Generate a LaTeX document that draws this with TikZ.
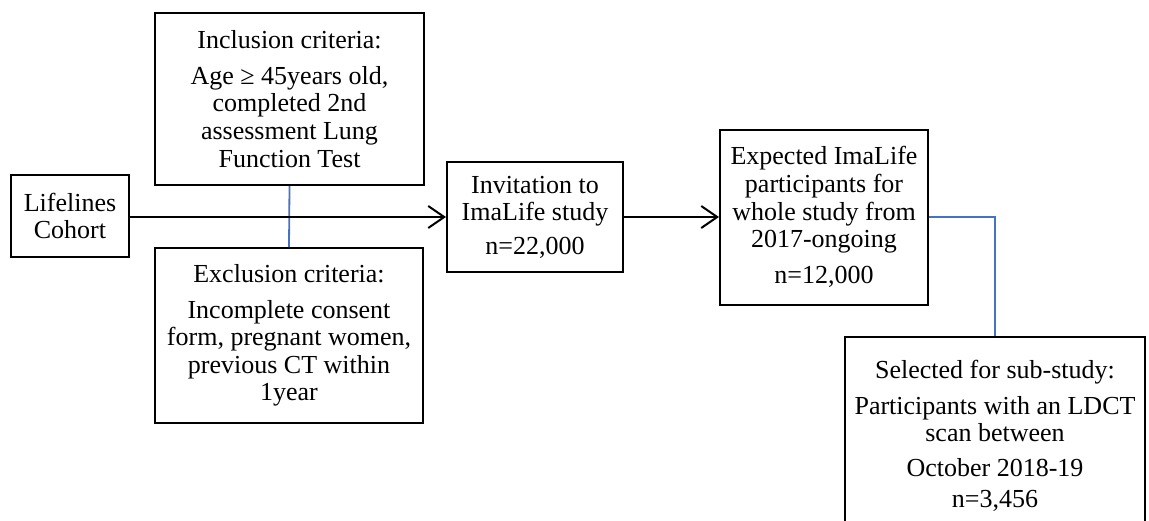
\documentclass[tikz,border=0pt]{standalone}
\usepackage{fontspec}
\setmainfont{Liberation Serif}
\usetikzlibrary{arrows.meta}
\definecolor{lineblue}{RGB}{68,114,196}
\begin{document}
\begin{tikzpicture}[x=0.5pt,y=-0.5pt,
  box/.style={draw=black,line width=1pt,align=center,inner sep=0pt,
    font=\fontsize{13}{13.8}\selectfont},
  arr/.style={draw=black,line width=1pt,-{Straight Barb[length=8pt,width=11pt,line width=1pt]}},
  bline/.style={draw=lineblue,line width=0.9pt}]
\useasboundingbox (0,0) rectangle (1149,520);
\clip (0,0) rectangle (1149,520);
\node[box,minimum width=59pt,minimum height=41pt] (life) at (70,216) {Lifelines\\Cohort};
\node[box,minimum width=134.5pt,minimum height=86pt] (incl) at (289.5,99)
  {Inclusion criteria:\\[4pt]Age ≥ 45years old,\\completed 2nd\\assessment Lung\\Function Test};
\node[box,minimum width=134pt,minimum height=87.5pt] (excl) at (289,335.5)
  {Exclusion criteria:\\[4pt]Incomplete consent\\form, pregnant women,\\previous CT within\\1year};
\node[box,minimum width=88pt,minimum height=55pt] (inv) at (535,217)
  {Invitation to\\ImaLife study\\[3pt]n=22,000};
\node[box,minimum width=104pt,minimum height=87.5pt] (exp) at (824,217)
  {Expected ImaLife\\participants for\\whole study from\\2017-ongoing\\[4pt]n=12,000};
\node[box,minimum width=150pt,minimum height=99pt,anchor=north] (sel) at (995,336)
  {Selected for sub-study:\\[4pt]Participants with an LDCT\\scan between\\[3.5pt]October 2018-19\\[2pt]n=3,456};
\draw[bline] (incl.south) -- (excl.north);
\draw[arr] (inv.west -| life.east) -- (inv.west);
\draw[arr] (inv.east) -- (exp.west);
\draw[bline] (exp.east) -| (sel.north);
\end{tikzpicture}
\end{document}
